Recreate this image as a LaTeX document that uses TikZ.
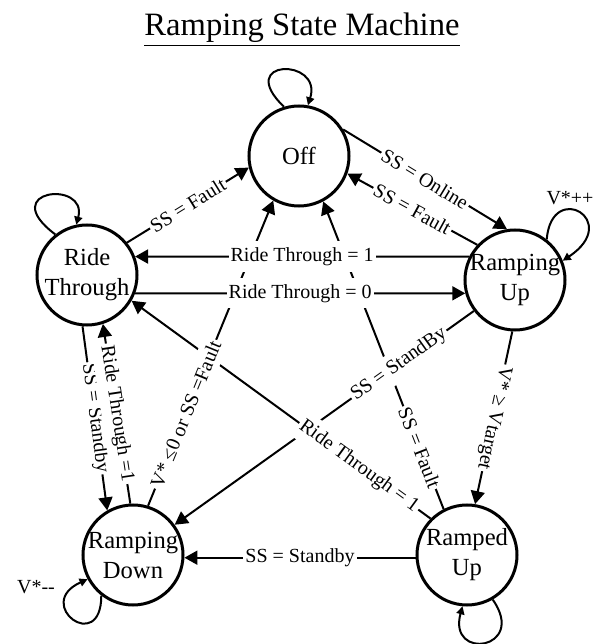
\documentclass[tikz,border=0pt]{standalone}
\usepackage{fontspec}
\setmainfont{Liberation Serif}
\usetikzlibrary{arrows.meta}
\tikzset {
    state/.style = {
        draw,
        shape = circle,
        line width=1.5pt,
        minimum size=50pt,
        inner sep=-2pt,
        align=center,
        font=\fontsize{12.3}{15}\selectfont
    },
    cond/.style = {
        fill=white,
        inner xsep=1pt,
        inner ysep=3pt,
        font=\fontsize{10}{12}\selectfont
    },
    trans/.style = {
        draw,
        ->,
        >={Triangle[length=6.5pt,width=7pt]},
        line width=1pt
    },
    selfloop/.style = {
        draw,
        ->,
        >={Triangle[length=4pt,width=4pt]},
        line width=1pt
    }
}
\begin{document}
\begin{tikzpicture}[x=0.5pt, y=0.5pt]
        \useasboundingbox (0,0) rectangle (599,644);

        % Title
        \node [font=\fontsize{16.3}{20}\selectfont] at (302,614)   (title)     {\underline{Ramping State Machine}};

        % States
        \node [state] at (299,488)                                (off)       {Off};
        \node [state] at (87,369)                                 (ride)      {Ride\\Through};
        \node [state] at (515,364)                                (rampup)    {Ramping\\Up};
        \node [state] at (133,89)                                 (rampdown)  {Ramping\\Down};
        \node [state] at (467,89)                                 (ramped)    {Ramped\\Up};

        % Loop labels
        \node [font=\fontsize{10}{12}\selectfont] at (570,446)    (vinc)      {V*++};
        \node [font=\fontsize{10}{12}\selectfont] at (36,57)      (vdec)      {V*-{}-};

        % Self loops
        \path [selfloop] (off.107)      .. controls +(-50,48) and +(15,48)   .. (off.80);
        \path [selfloop] (ride.128)     .. controls +(-60,45) and +(12,45)   .. (ride.102);
        \path [selfloop] (rampup.52)    .. controls +(5,60) and +(60,40)     .. (rampup.22);
        \path [selfloop] (rampdown.232) .. controls +(0,-60) and +(-55,-25)  .. (rampdown.208);
        \path [selfloop] (ramped.-60)   .. controls +(35,-50) and +(-15,-55) .. (ramped.265);

        % Transitions round the top
        \path [trans] (ride.39)     -- node [cond, sloped] {SS = Fault}  (off.193);
        \path [trans] (off.31)      -- node [cond, sloped] {SS = Online} (rampup.99);
        \path [trans] (rampup.137)  -- node [cond, sloped] {SS = Fault}  (off.-20);

        % Left side
        \path [trans] (ride.265)    -- node [cond, sloped] {SS = Standby}     (rampdown.120);
        \path [trans] (rampdown.93) -- node [cond, sloped] {Ride Through =1}  (ride.-72);

        % Crossing diagonals
        \path [trans] (ramped.117)  -- node [cond, sloped, pos=0.2]  {SS = Fault}         (off.-62);
        \path [trans] (rampup.217)  -- node [cond, sloped, pos=0.25] {SS = StandBy}       (rampdown.36);
        \path [trans] (ramped.135)  -- node [cond, sloped, pos=0.24] {Ride Through = 1}   (ride.-30);
        \path [trans] (rampdown.73) -- node [cond, sloped, pos=0.3]  {V* ≤0 or SS =Fault} (off.240);

        % Right side and bottom
        \path [trans] (rampup.267)  -- node [cond, sloped, allow upside down] {V* ≥ Vtarget} (ramped.81);
        \path [trans] (ramped.183)  -- node [cond] {SS = Standby} (rampdown.-3);

        % Horizontals
        \path [trans] (rampup.153)  -- node [cond] {Ride Through = 1} (ride.21);
        \path [trans] (ride.-21)    -- node [cond] {Ride Through = 0} (rampup.195);
\end{tikzpicture}
\end{document}
